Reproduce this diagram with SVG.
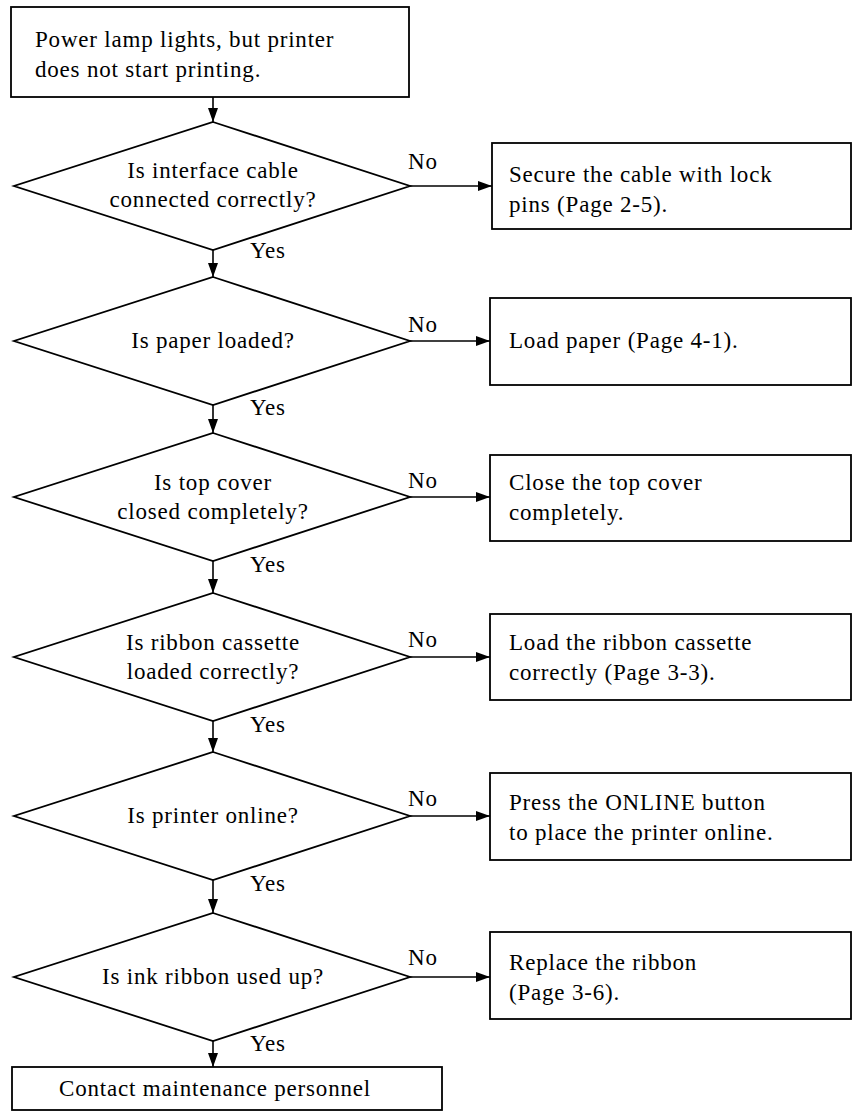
<svg xmlns="http://www.w3.org/2000/svg" width="853" height="1113" viewBox="0 0 853 1113">
<style>
.box{fill:#fff;stroke:#000;stroke-width:1.8}
.dia{fill:#fff;stroke:#000;stroke-width:1.8}
.con{fill:none;stroke:#000;stroke-width:1.6}
text{font-family:"Liberation Serif","Times New Roman",serif;font-size:23px;letter-spacing:0.8px;fill:#000}
.c{text-anchor:middle}
</style>
<defs>
<marker id="ah" viewBox="0 0 14 10" refX="14" refY="5" markerWidth="14" markerHeight="10" markerUnits="userSpaceOnUse" orient="auto">
<path d="M0,0 L14,5 L0,10 Z" fill="#000"/>
</marker>
</defs>
<g id="connectors">
<line class="con" x1="213" y1="97" x2="213" y2="122" marker-end="url(#ah)"/>
<line class="con" x1="213" y1="250" x2="213" y2="277" marker-end="url(#ah)"/>
<line class="con" x1="213" y1="405" x2="213" y2="433" marker-end="url(#ah)"/>
<line class="con" x1="213" y1="561" x2="213" y2="593" marker-end="url(#ah)"/>
<line class="con" x1="213" y1="721" x2="213" y2="752" marker-end="url(#ah)"/>
<line class="con" x1="213" y1="880" x2="213" y2="913" marker-end="url(#ah)"/>
<line class="con" x1="213" y1="1041" x2="213" y2="1067" marker-end="url(#ah)"/>
<line class="con" x1="410" y1="186" x2="492" y2="186" marker-end="url(#ah)"/>
<line class="con" x1="410" y1="341" x2="490" y2="341" marker-end="url(#ah)"/>
<line class="con" x1="410" y1="497" x2="490" y2="497" marker-end="url(#ah)"/>
<line class="con" x1="410" y1="657" x2="490" y2="657" marker-end="url(#ah)"/>
<line class="con" x1="410" y1="816" x2="490" y2="816" marker-end="url(#ah)"/>
<line class="con" x1="410" y1="977" x2="490" y2="977" marker-end="url(#ah)"/>
<text x="408" y="169">No</text>
<text x="408" y="332">No</text>
<text x="408" y="488">No</text>
<text x="408" y="647">No</text>
<text x="408" y="806">No</text>
<text x="408" y="965">No</text>
<text x="250" y="258">Yes</text>
<text x="250" y="415">Yes</text>
<text x="250" y="572">Yes</text>
<text x="250" y="732">Yes</text>
<text x="250" y="891">Yes</text>
<text x="250" y="1051">Yes</text>
</g>
<g id="start">
<rect class="box" x="11" y="7" width="398" height="90"/>
<text x="35" y="47">Power lamp lights, but printer</text>
<text x="35" y="77">does not start printing.</text>
</g>
<g id="q1">
<polygon class="dia" points="213,122 410,186 213,250 14,186"/>
<text class="c" x="213" y="178">Is interface cable</text>
<text class="c" x="213" y="207">connected correctly?</text>
</g>
<g id="a1">
<rect class="box" x="492" y="143" width="359" height="86"/>
<text x="509" y="182">Secure the cable with lock</text>
<text x="509" y="212">pins (Page 2-5).</text>
</g>
<g id="q2">
<polygon class="dia" points="213,277 410,341 213,405 14,341"/>
<text class="c" x="213" y="348">Is paper loaded?</text>
</g>
<g id="a2">
<rect class="box" x="490" y="298" width="361" height="87"/>
<text x="509" y="348">Load paper (Page 4-1).</text>
</g>
<g id="q3">
<polygon class="dia" points="213,433 410,497 213,561 14,497"/>
<text class="c" x="213" y="490">Is top cover</text>
<text class="c" x="213" y="519">closed completely?</text>
</g>
<g id="a3">
<rect class="box" x="490" y="455" width="361" height="86"/>
<text x="509" y="490">Close the top cover</text>
<text x="509" y="520">completely.</text>
</g>
<g id="q4">
<polygon class="dia" points="213,593 410,657 213,721 14,657"/>
<text class="c" x="213" y="650">Is ribbon cassette</text>
<text class="c" x="213" y="679">loaded correctly?</text>
</g>
<g id="a4">
<rect class="box" x="490" y="614" width="361" height="86"/>
<text x="509" y="650">Load the ribbon cassette</text>
<text x="509" y="680">correctly (Page 3-3).</text>
</g>
<g id="q5">
<polygon class="dia" points="213,752 410,816 213,880 14,816"/>
<text class="c" x="213" y="823">Is printer online?</text>
</g>
<g id="a5">
<rect class="box" x="490" y="773" width="361" height="87"/>
<text x="509" y="810">Press the ONLINE button</text>
<text x="509" y="840">to place the printer online.</text>
</g>
<g id="q6">
<polygon class="dia" points="213,913 410,977 213,1041 14,977"/>
<text class="c" x="213" y="984">Is ink ribbon used up?</text>
</g>
<g id="a6">
<rect class="box" x="490" y="932" width="361" height="87"/>
<text x="509" y="970">Replace the ribbon</text>
<text x="509" y="1000">(Page 3-6).</text>
</g>
<g id="end">
<rect class="box" x="12" y="1067" width="430" height="43"/>
<text class="c" x="215" y="1096">Contact maintenance personnel</text>
</g>
</svg>
